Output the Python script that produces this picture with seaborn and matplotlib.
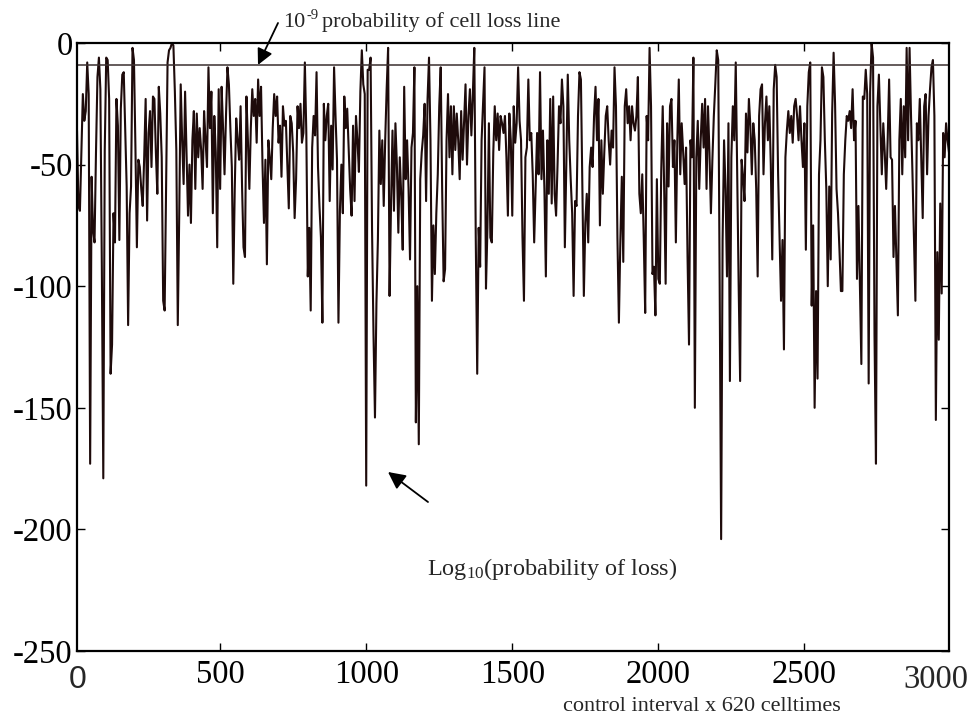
import numpy as np
import pandas as pd
import matplotlib
matplotlib.use("Agg")
import matplotlib.pyplot as plt
import seaborn as sns

# ---------------- data ----------------
start = 10   # first sampled control interval
step = 5     # spacing of the sampled points
loss_a = [-36, -67, -69, -45, -21, -32, -28, -8, -21, -173,
          -55, -77, -82, -45, -14, -6, -19, -92, -179, -44,
          -6, -7, -23, -136, -124, -70, -82, -23, -34, -81,
          -27, -13, -12, -35, -59, -116, -70, -59, -2, -7,
          -43, -84, -48, -51, -60, -67, -47, -23, -73, -37,
          -28, -51, -22, -23, -45, -62, -18, -29, -47, -106,
          -110, -60, -8, -3, -2, 0, -1, -20, -44, -116,
          -70, -17, -40, -58, -20, -45, -71, -50, -74, -40,
          -28, -60, -29, -47, -35, -44, -60, -28, -40, -51,
          -10, -35, -20, -70, -30, -45, -84, -19, -60, -18]
loss_b = [-35, -54, -30, -10, -17, -35, -51, -99, -60, -31,
          -40, -48, -26, -59, -84, -88, -22, -40, -60, -35,
          -19, -30, -23, -41, -15, -30, -18, -50, -74, -48,
          -91, -40, -47, -56, -35, -21, -30, -22, -41, -34,
          -55, -26, -34, -32, -50, -68, -30, -33, -45, -72,
          -56, -26, -35, -25, -41, -37, -8, -37, -96, -76,
          -110, -43, -30, -38, -12, -51, -67, -80, -115, -25,
          -40, -30, -25, -65, -34, -52, -10, -30, -48, -115,
          -69, -50, -70, -22, -35, -27, -44, -60, -71, -34,
          -65, -30, -40, -53, -20, -3, -17, -21, -182, -11]
loss_c = [-11, -6, -77, -120, -154, -107, -81, -36, -58, -40,
          -67, -40, -19, -2, -104, -66, -36, -69, -33, -50,
          -78, -47, -63, -85, -18, -56, -40, -60, -89, -43,
          -37, -10, -156, -100, -165, -56, -45, -38, -25, -65,
          -23, -6, -40, -106, -75, -95, -70, -54, -26, -10,
          -60, -98, -93, -40, -21, -47, -26, -54, -26, -44,
          -29, -40, -56, -28, -48, -33, -17, -50, -30, -19,
          -38, -21, -2, -80, -136, -76, -92, -40, -25, -10,
          -101, -76, -33, -80, -82, -45, -26, -40, -29, -44,
          -30, -33, -37, -30, -47, -71, -29, -40, -71, -26]
loss_d = [-41, -33, -10, -32, -40, -80, -106, -47, -43, -15,
          -40, -37, -54, -82, -60, -37, -54, -12, -56, -36,
          -60, -96, -40, -62, -23, -66, -22, -62, -71, -50,
          -26, -33, -15, -26, -84, -50, -13, -40, -56, -70,
          -104, -65, -67, -30, -12, -15, -60, -104, -74, -62,
          -82, -51, -43, -51, -30, -18, -40, -23, -75, -40,
          -62, -45, -30, -26, -40, -50, -36, -43, -10, -26,
          -80, -115, -81, -55, -90, -26, -19, -33, -26, -40,
          -26, -33, -36, -30, -14, -62, -70, -54, -80, -111,
          -30, -40, -2, -26, -95, -92, -112, -56, -97, -99]
loss_e = [-52, -26, -60, -99, -33, -59, -26, -23, -51, -40,
          -82, -40, -15, -54, -33, -45, -58, -43, -88, -124,
          -40, -47, -6, -150, -47, -32, -60, -40, -25, -43,
          -23, -60, -26, -45, -70, -48, -30, -17, -3, -7,
          -100, -204, -81, -40, -60, -96, -33, -139, -47, -26,
          -40, -8, -54, -100, -139, -48, -55, -65, -29, -45,
          -23, -34, -54, -33, -40, -60, -96, -30, -19, -17,
          -54, -33, -22, -40, -26, -50, -89, -19, -9, -14,
          -54, -80, -106, -81, -126, -47, -36, -28, -37, -30,
          -41, -26, -23, -30, -40, -26, -40, -51, -33, -85]
loss_f = [-26, -12, -8, -108, -75, -150, -102, -138, -54, -40,
          -10, -14, -40, -60, -100, -59, -89, -29, -4, -25,
          -60, -70, -85, -102, -102, -54, -40, -30, -32, -28,
          -35, -19, -40, -32, -97, -67, -100, -132, -22, -23,
          -11, -21, -140, -20, 0, -6, -120, -173, -26, -13,
          -33, -54, -33, -45, -60, -40, -15, -47, -48, -88,
          -67, -90, -112, -40, -23, -54, -26, -47, -2, -40,
          -2, -30, -54, -80, -106, -33, -40, -23, -47, -72,
          -26, -21, -54, -30, -19, -10, -7, -30, -155, -86,
          -122, -66, -103, -37, -47, -33, -40, -45]
threshold = -9  # log10(1e-9)

x_ticks = [500, 1000, 1500, 2000, 2500]
y_ticks = [0, -50, -100, -150, -200, -250]

values = loss_a + loss_b + loss_c + loss_d + loss_e + loss_f
interval = start + np.arange(len(values)) * step
df = pd.DataFrame({"interval": interval, "log_loss": values})

# ---------------- style ----------------
sns.set_style("ticks")
plt.rcParams["font.family"] = ["Liberation Serif", "DejaVu Serif"]
plt.rcParams["mathtext.fontset"] = "custom"
plt.rcParams["mathtext.rm"] = "Liberation Serif"
plt.rcParams["mathtext.it"] = "Liberation Serif:italic"
plt.rcParams["axes.unicode_minus"] = False

W, H = 973, 717
fig = plt.figure(figsize=(W / 100, H / 100), dpi=100)
ax = fig.add_axes([77 / W, 1 - 651 / H, (949 - 77) / W, (651 - 43) / H])

line_col = "#1e0b0b"
sns.lineplot(data=df, x="interval", y="log_loss", ax=ax, color=line_col,
             lw=1.5, estimator=None)
ax.axhline(threshold, color="#3b2f2f", lw=1.1)

ax.set_xlim(10, 2995)
ax.set_ylim(-250, 0)
ax.set_xticks(x_ticks)
ax.set_yticks(y_ticks)
ax.set_xlabel("")
ax.set_ylabel("")
ax.tick_params(direction="in", top=True, right=True, length=6, width=1.0,
               labelsize=23.5, colors="black")
ax.tick_params(axis="x", pad=6)
ax.tick_params(axis="y", pad=3)
for sp in ax.spines.values():
    sp.set_linewidth(1.6)
    sp.set_color("black")
    sp.set_visible(True)

# edge x labels
fig.text(78 / W, 1 - 688 / H, "0", ha="center", va="baseline", size=23,
         family="Liberation Sans")
fig.text(936 / W, 1 - 688 / H, "3000", ha="center", va="baseline", size=23.5)

# axis label
fig.text(563 / W, 1 - 711 / H, "control interval x 620 celltimes",
         ha="left", va="baseline", size=16)

# annotation: threshold line (10 with hyphen superscript -9)
fig.canvas.draw()
renderer = fig.canvas.get_renderer()
t10 = fig.text(283 / W, 1 - 27 / H, "10", ha="left", va="baseline", size=16)
bb = t10.get_window_extent(renderer)
tsup = fig.text((bb.x1 + 1) / W, 1 - 19 / H, "-9", ha="left", va="baseline",
                size=10.5)
bb2 = tsup.get_window_extent(renderer)
fig.text((bb2.x1 + 4) / W, 1 - 27 / H, "probability of cell loss line",
         ha="left", va="baseline", size=16)

ux = (2995 - 10) / (949 - 77)
ax.annotate("", xy=(10 + (258 - 77) * ux, threshold), xycoords="data",
            xytext=(278 / W, 1 - 23 / H), textcoords="figure fraction",
            arrowprops=dict(arrowstyle="-|>", color="black", lw=1.3,
                            mutation_scale=24, shrinkA=0, shrinkB=0))

# annotation: log loss curve
ax.annotate("", xy=(10 + (388 - 77) * ux, -(472 - 43) / 2.432), xycoords="data",
            xytext=(10 + (428 - 77) * ux, -(502 - 43) / 2.432), textcoords="data",
            arrowprops=dict(arrowstyle="-|>", color="black", lw=1.3,
                            mutation_scale=26, shrinkA=0, shrinkB=0))
ax.text(10 + (427 - 77) * ux, -(575 - 43) / 2.432,
        r"Log$_{10}$(probability of loss)", ha="left", va="baseline", size=17.5)

fig.savefig("out.png", dpi=100)
